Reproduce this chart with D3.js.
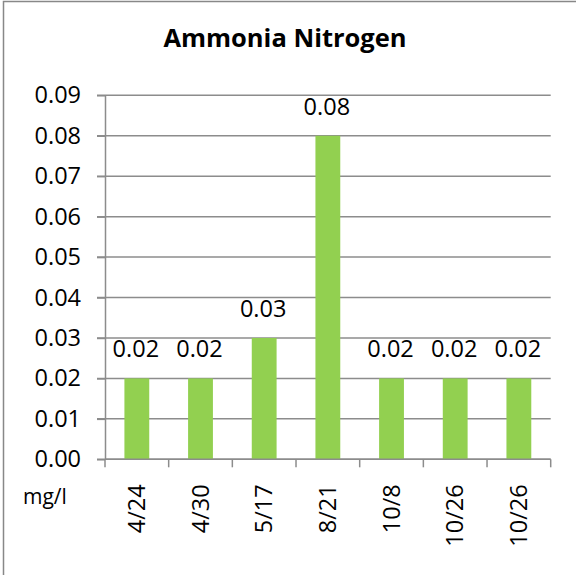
<!DOCTYPE html>
<html>
<head>
<meta charset="utf-8">
<script src="https://cdn.jsdelivr.net/npm/d3@7"></script>
<style>
  body { margin: 0; background: #fff; }
  svg { font-family: "Open Sans", sans-serif; }
</style>
</head>
<body>
<svg id="chart"></svg>
<script>
// chart data
const dates = ["4/24", "4/30", "5/17", "8/21", "10/8", "10/26", "10/26b"];
const dateLabels = ["4/24", "4/30", "5/17", "8/21", "10/8", "10/26", "10/26"];
const values = [0.02, 0.02, 0.03, 0.08, 0.02, 0.02, 0.02];
const yTicks = [0, 0.01, 0.02, 0.03, 0.04, 0.05, 0.06, 0.07, 0.08, 0.09];

const width = 576, height = 575;
const margin = { top: 95.3, right: 25.3, bottom: 115.7, left: 105 };
const innerW = width - margin.left - margin.right;
const innerH = height - margin.top - margin.bottom;
const fontSize = 23.5;

const svg = d3.select("#chart").attr("width", width).attr("height", height);

// outer frame (only top and left edges are visible)
svg.append("rect")
  .attr("x", 3.5).attr("y", 1.5)
  .attr("width", width).attr("height", height)
  .attr("fill", "none").attr("stroke", "#888").attr("stroke-width", 1.5);

svg.append("text")
  .attr("x", 285).attr("y", 47)
  .attr("text-anchor", "middle")
  .attr("font-weight", "bold")
  .attr("font-size", 25.5)
  .text("Ammonia Nitrogen");

const chart = svg.append("g")
  .attr("transform", `translate(${margin.left},${margin.top})`);

const x = d3.scaleBand().domain(dates).range([0, innerW])
  .paddingInner(0.61).paddingOuter(0.305);
const xTicksScale = d3.scaleBand().domain(dates).range([0, innerW]);
const y = d3.scaleLinear().domain([0, 0.09]).range([innerH, 0]);

// gridlines
chart.append("g")
  .selectAll("line")
  .data(yTicks)
  .join("line")
  .attr("x1", -8).attr("x2", innerW)
  .attr("y1", d => y(d)).attr("y2", d => y(d))
  .attr("stroke", "#8c8c8c").attr("stroke-width", 1.5);

// y axis
const yAxis = d3.axisLeft(y).tickValues(yTicks).tickFormat(d3.format(".2f"))
  .tickSize(8).tickSizeOuter(0).tickPadding(16);
const yg = chart.append("g").call(yAxis);
yg.select(".domain").attr("stroke", "#8c8c8c").attr("stroke-width", 1.5);
yg.selectAll(".tick line").attr("stroke", "#8c8c8c").attr("stroke-width", 1.5);
yg.selectAll("text").attr("font-size", fontSize).attr("fill", "#000")
  .attr("font-family", "'Open Sans', sans-serif");

// bars
chart.selectAll(".bar")
  .data(values)
  .join("rect")
  .attr("class", "bar")
  .attr("x", (d, i) => x(dates[i]))
  .attr("width", x.bandwidth())
  .attr("y", d => y(d))
  .attr("height", d => innerH - y(d))
  .attr("fill", "#92D050");

// value labels
chart.selectAll(".val")
  .data(values)
  .join("text")
  .attr("class", "val")
  .attr("x", (d, i) => x(dates[i]) + x.bandwidth() / 2 - 1)
  .attr("y", d => y(d) - 21)
  .attr("text-anchor", "middle")
  .attr("font-size", fontSize)
  .text(d => d3.format(".2f")(d));

// x axis with ticks on band boundaries
const xg = chart.append("g").attr("transform", `translate(0,${innerH})`);
xg.append("line")
  .attr("x1", 0).attr("x2", innerW)
  .attr("stroke", "#8c8c8c").attr("stroke-width", 1.5);
xg.selectAll(".xtick")
  .data(dates.map(d => xTicksScale(d)).concat([innerW]))
  .join("line")
  .attr("class", "xtick")
  .attr("x1", d => d).attr("x2", d => d)
  .attr("y1", 0).attr("y2", 8)
  .attr("stroke", "#8c8c8c").attr("stroke-width", 1.5);
xg.selectAll(".xlab")
  .data(dates)
  .join("text")
  .attr("class", "xlab")
  .attr("transform", (d, i) =>
    `translate(${x(d) + x.bandwidth() / 2 + 8},${25}) rotate(-90)`)
  .attr("text-anchor", "end")
  .attr("font-size", fontSize)
  .text((d, i) => dateLabels[i]);

svg.append("text")
  .attr("x", 23).attr("y", 504)
  .attr("font-size", 21)
  .text("mg/l");
</script>
</body>
</html>
